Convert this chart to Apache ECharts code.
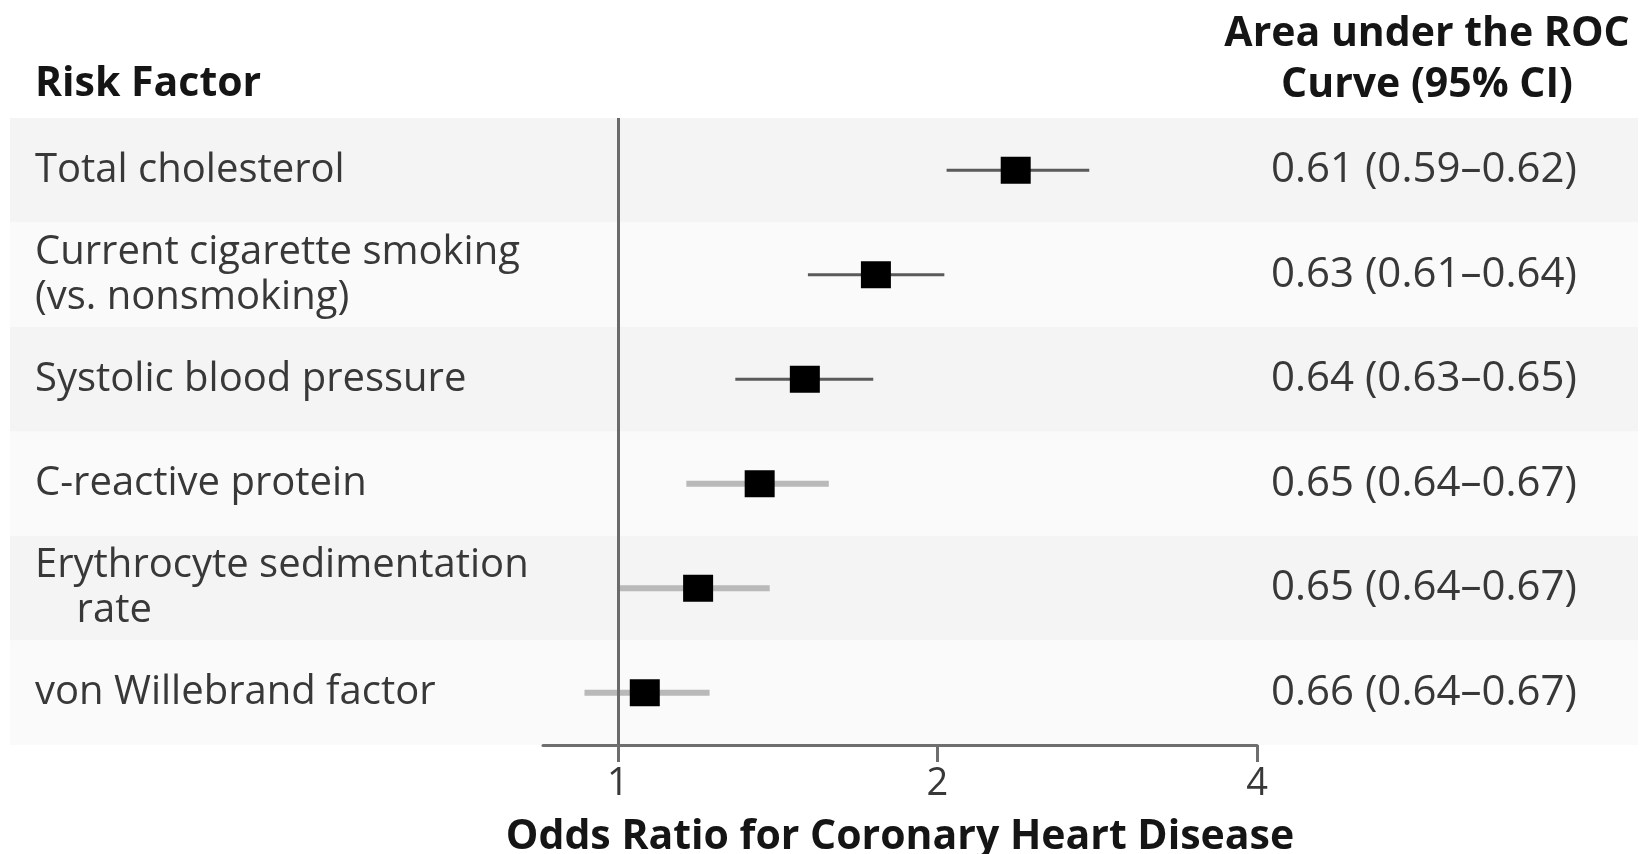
<!DOCTYPE html>
<html>
<head>
<meta charset="utf-8">
<script src="https://cdn.jsdelivr.net/npm/echarts@6/dist/echarts.min.js"></script>
<style>
  html, body { margin: 0; padding: 0; background: #ffffff; }
  #chart { width: 1645px; height: 854px; }
</style>
</head>
<body>
<div id="chart"></div>
<script>
// Risk factors (top to bottom) and their odds ratios with 95% confidence limits
const riskFactors = [
  'Total cholesterol',
  'Current cigarette smoking\n(vs. nonsmoking)',
  'Systolic blood pressure',
  'C-reactive protein',
  'Erythrocyte sedimentation\n    rate',
  'von Willebrand factor'
];
const oddsRatio = [2.37, 1.75, 1.50, 1.36, 1.19, 1.06];
const ciLower   = [2.04, 1.51, 1.29, 1.16, 1.00, 0.93];
const ciUpper   = [2.78, 2.03, 1.74, 1.58, 1.39, 1.22];

// Area under the ROC curve for each risk factor
const aucLabels = [
  '0.61 (0.59–0.62)',
  '0.63 (0.61–0.64)',
  '0.64 (0.63–0.65)',
  '0.65 (0.64–0.67)',
  '0.65 (0.64–0.67)',
  '0.66 (0.64–0.67)'
];

// Odds-ratio axis (log scale)
const xTicks = [1, 2, 4];
const xMin = 0.85;
const xMax = 4;

const FONT = "'Open Sans', 'Noto Sans', 'Liberation Sans', sans-serif";
const PLOT = { left: 543, right: 388, top: 118, bottom: 109 };
const BAND_LEFT = 10;
const BAND_RIGHT = 1638;

const chart = echarts.init(document.getElementById('chart'), null, { renderer: 'canvas' });

const option = {
  backgroundColor: '#ffffff',
  animation: false,
  grid: [{
    left: PLOT.left, right: PLOT.right, top: PLOT.top, bottom: PLOT.bottom,
    containLabel: false, outerBoundsMode: 'none'
  }],
  xAxis: [{
    type: 'log',
    logBase: 2,
    min: xMin,
    max: xMax,
    axisLine: { show: true, lineStyle: { color: '#6e6e6e', width: 3 } },
    axisTick: { show: true, customValues: xTicks, length: 17, inside: false,
                lineStyle: { color: '#6e6e6e', width: 3 } },
    axisLabel: { show: true, customValues: xTicks, margin: 20, fontSize: 38,
                 fontFamily: FONT, color: '#383838' },
    splitLine: { show: false },
    name: 'Odds Ratio for Coronary Heart Disease',
    nameLocation: 'middle',
    nameGap: 72,
    nameTextStyle: { fontSize: 41, fontWeight: 'bold', fontFamily: FONT, color: '#151515' }
  }],
  yAxis: [{
    type: 'category',
    data: riskFactors,
    inverse: true,
    axisLine: { show: false },
    axisTick: { show: false },
    splitLine: { show: false },
    axisLabel: {
      align: 'left',
      margin: PLOT.left - 35,
      fontSize: 40,
      lineHeight: 45,
      padding: [9, 0, 0, 0],
      fontFamily: FONT,
      color: '#383838'
    }
  }, {
    type: 'category',
    data: aucLabels,
    inverse: true,
    position: 'right',
    axisLine: { show: false },
    axisTick: { show: false },
    splitLine: { show: false },
    axisLabel: {
      align: 'left',
      margin: 14,
      fontSize: 42,
      padding: [9, 0, 0, 0],
      fontFamily: FONT,
      color: '#383838'
    }
  }],
  graphic: [
    {
      type: 'text', left: 35, top: 64, z: 10,
      style: { text: 'Risk Factor', font: "bold 41px " + FONT, fill: '#151515' }
    },
    {
      type: 'text', x: 1427, y: 9, z: 10,
      style: {
        text: 'Area under the ROC\nCurve (95% CI)',
        font: "bold 41px " + FONT, fill: '#151515',
        align: 'center', lineHeight: 51
      }
    }
  ],
  series: [
    {
      // alternating row bands spanning the full width
      type: 'custom',
      clip: false,
      z: 0,
      silent: true,
      data: riskFactors.map((r, i) => [1, i]),
      encode: { x: 0, y: 1 },
      renderItem: function (params, api) {
        const idx = api.value(1);
        const c = api.coord([1, idx]);
        const h = api.size([0, 1])[1];
        return {
          type: 'rect',
          shape: { x: BAND_LEFT, y: c[1] - h / 2, width: BAND_RIGHT - BAND_LEFT, height: h },
          style: { fill: idx % 2 === 0 ? '#f4f4f4' : '#fafafa' }
        };
      }
    },
    {
      // confidence-interval whiskers
      type: 'custom',
      z: 3,
      silent: true,
      data: riskFactors.map((r, i) => [ciLower[i], ciUpper[i], i]),
      encode: { x: [0, 1], y: 2 },
      renderItem: function (params, api) {
        const idx = api.value(2);
        const a = api.coord([api.value(0), idx]);
        const b = api.coord([api.value(1), idx]);
        const traditional = idx < 3;
        return {
          type: 'line',
          shape: { x1: a[0], y1: a[1], x2: b[0], y2: b[1] },
          style: {
            stroke: traditional ? '#5a5a5a' : '#b9b9b9',
            lineWidth: traditional ? 3 : 6
          }
        };
      }
    },
    {
      // point estimates
      type: 'scatter',
      z: 5,
      symbol: 'rect',
      symbolSize: [30, 27],
      itemStyle: { color: '#000000', opacity: 1 },
      data: oddsRatio.map((v, i) => [v, i]),
      markLine: {
        silent: true,
        symbol: 'none',
        label: { show: false },
        lineStyle: { color: '#6a6a6a', width: 3, type: 'solid' },
        data: [{ xAxis: 1 }]
      }
    }
  ]
};

chart.setOption(option);
</script>
</body>
</html>
